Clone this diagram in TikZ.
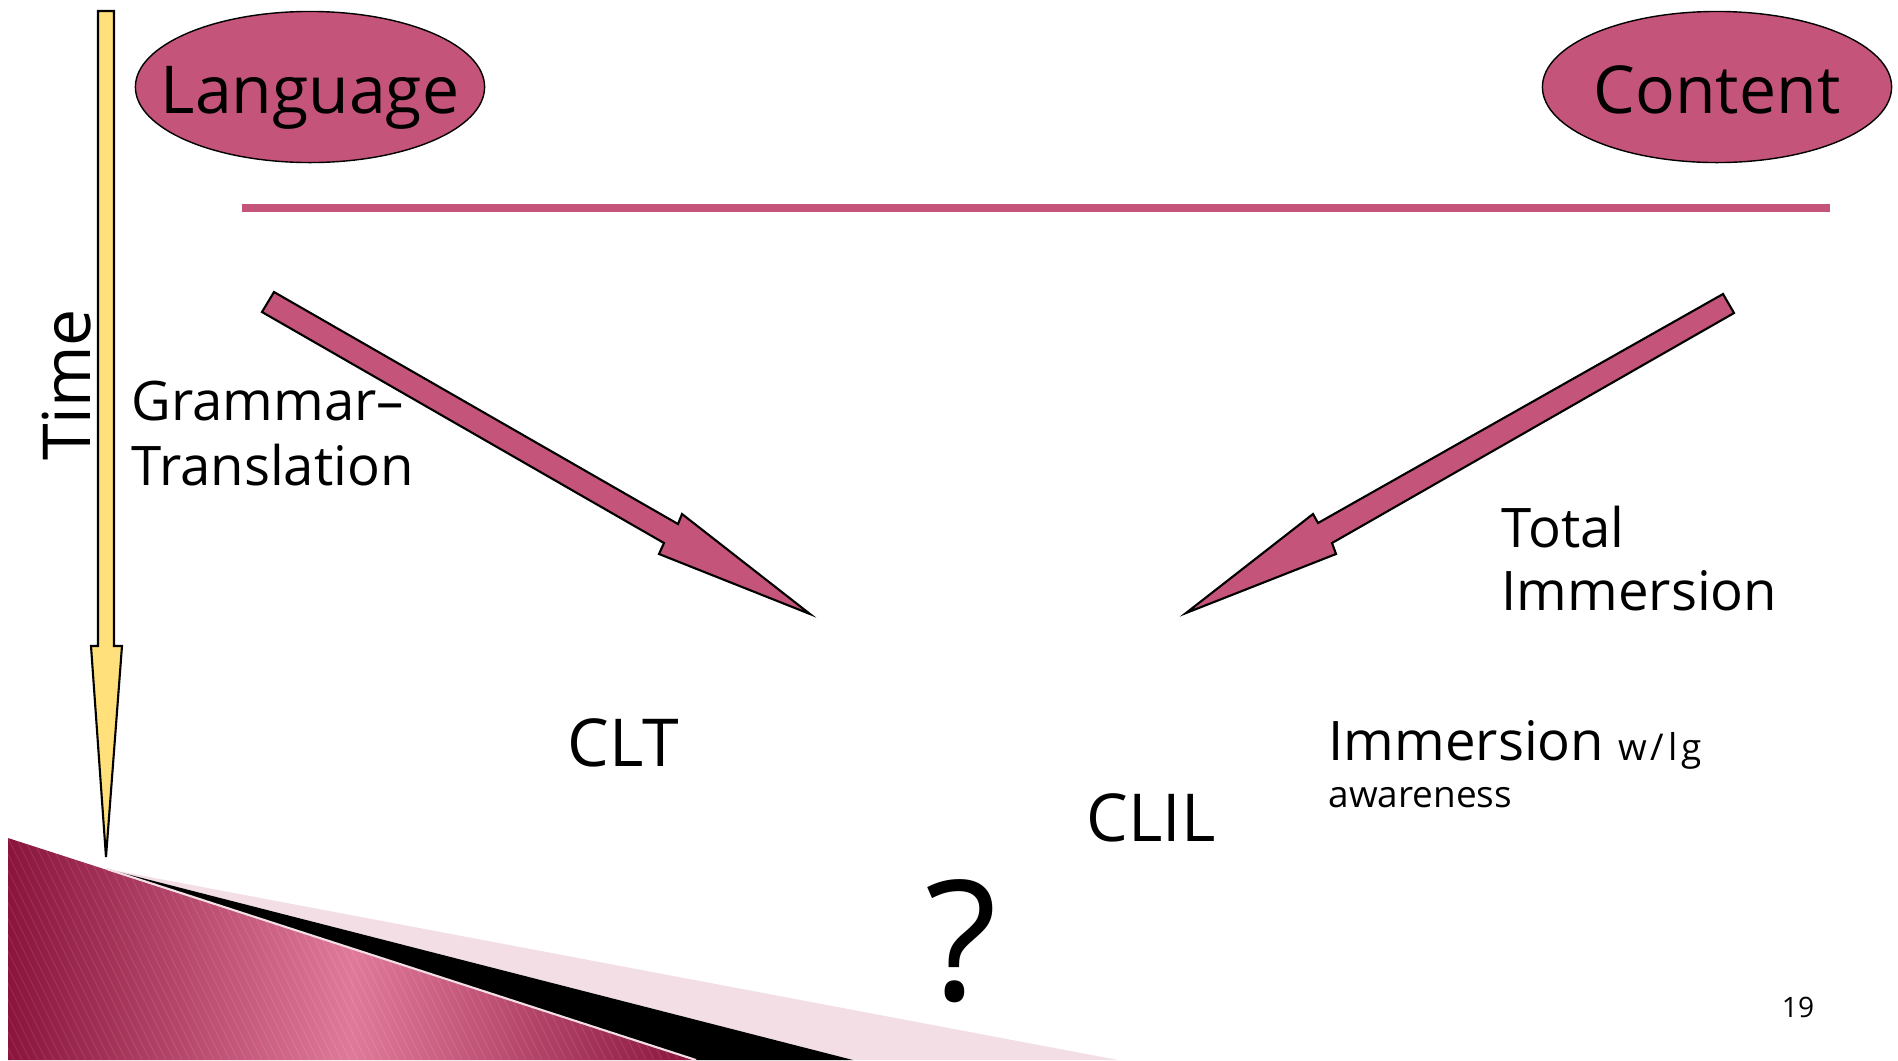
\documentclass[tikz,border=0pt]{standalone}
\usepackage{fontspec}
\setmainfont{Open Sans}
\usetikzlibrary{shapes.geometric}

\definecolor{rose}{RGB}{197,84,122}
\definecolor{timeyellow}{RGB}{255,224,122}
\definecolor{crimsondark}{RGB}{138,20,60}
\definecolor{crimsonlight}{RGB}{225,122,154}
\definecolor{blush}{RGB}{242,222,228}

% text sizes used on the slide
\newcommand\fsBig{\fontsize{18.8pt}{22pt}\selectfont}
\newcommand\fsMid{\fontsize{15.5pt}{18pt}\selectfont}
\newcommand\fsSmall{\fontsize{10.5pt}{12pt}\selectfont}
\newcommand\fsHuge{\fontsize{47.5pt}{50pt}\selectfont}
\newcommand\fsPage{\fontsize{8pt}{10pt}\selectfont}

\begin{document}
\begin{tikzpicture}[x=0.01cm,y=-0.01cm,
  txt/.style={inner sep=0pt, anchor=base},
  pole/.style={ellipse, fill=rose, draw=black, line width=0.4pt,
    minimum width=3.49cm, minimum height=1.51cm, inner sep=0pt},
  blockarrow/.style={fill=rose, draw=black, line width=0.6pt, line join=miter},
  timearrow/.style={fill=timeyellow, draw=black, line width=0.6pt, line join=miter}]

% canvas
\fill[white] (0,0) rectangle (1898,1060);
\useasboundingbox (0,0) rectangle (1898,1060);

% corner decoration
\fill[blush] (107,869) -- (1118,1060) -- (853,1060) -- cycle;
\fill[black] (107,869) -- (853,1060) -- (696,1060) -- cycle;
\shade[left color=crimsondark, right color=crimsondark, middle color=crimsonlight]
  (8,838) -- (696,1060) -- (8,1060) -- cycle;
\begin{scope}
  \clip (8,838) -- (696,1060) -- (8,1060) -- cycle;
  \foreach \i in {-160,-152,...,700}
    \draw[white, opacity=0.10, line width=0.25pt] (\i,838) -- ++(110,222);
\end{scope}
\draw[blush, line width=0.6pt] (107,869) -- (696,1060);

% time axis
\draw[timearrow] (98,11) -- (114,11) -- (114,646) -- (122,646) -- (106,857)
  -- (91,646) -- (98,646) -- cycle;
\node[txt, rotate=90, font=\fsBig] (time) at (90,385) {Time};

% the two poles
\node[pole] (lang) at (310,87) {};
\node[txt, font=\fsBig] (langtext) at (310,113) {Language};
\node[pole] (cont) at (1717,87) {};
\node[txt, font=\fsBig] (conttext) at (1717,113) {Content};
\draw[rose, line width=2.3pt] (242,208) -- (1830,208);

% movement towards the middle
\draw[blockarrow] (274,292) -- (678,524) -- (682,514) -- (810,614)
  -- (659,554) -- (664,543) -- (262,312) -- cycle;
\draw[blockarrow] (1723,294) -- (1318,523) -- (1313,514) -- (1186,613)
  -- (1336,554) -- (1332,543) -- (1734,313) -- cycle;

% approaches
\node[txt, font=\fsMid, anchor=base west] (gram1) at (131,420) {Grammar–};
\node[txt, font=\fsMid, anchor=base west] (gram2) at (131,485) {Translation};
\node[txt, font=\fsMid, anchor=base west] (tot1) at (1501,547) {Total};
\node[txt, font=\fsMid, anchor=base west] (tot2) at (1501,610) {Immersion};
\node[txt, anchor=base west] (imm1) at (1328,760)
  {\fsMid Immersion {\fsSmall\addfontfeature{LetterSpace=10}w/lg}};
\node[txt, font=\fsSmall, anchor=base west] (imm2) at (1328,807) {awareness};
\node[txt, font=\fsBig] (clt) at (623,766) {CLT};
\node[txt, font=\fsBig] (clil) at (1151,841) {CLIL};
\node[txt, font=\fsHuge] (quest) at (961,1000) {?};
\node[txt, font=\fsPage] (pageno) at (1798,1017) {19};
\end{tikzpicture}
\end{document}
